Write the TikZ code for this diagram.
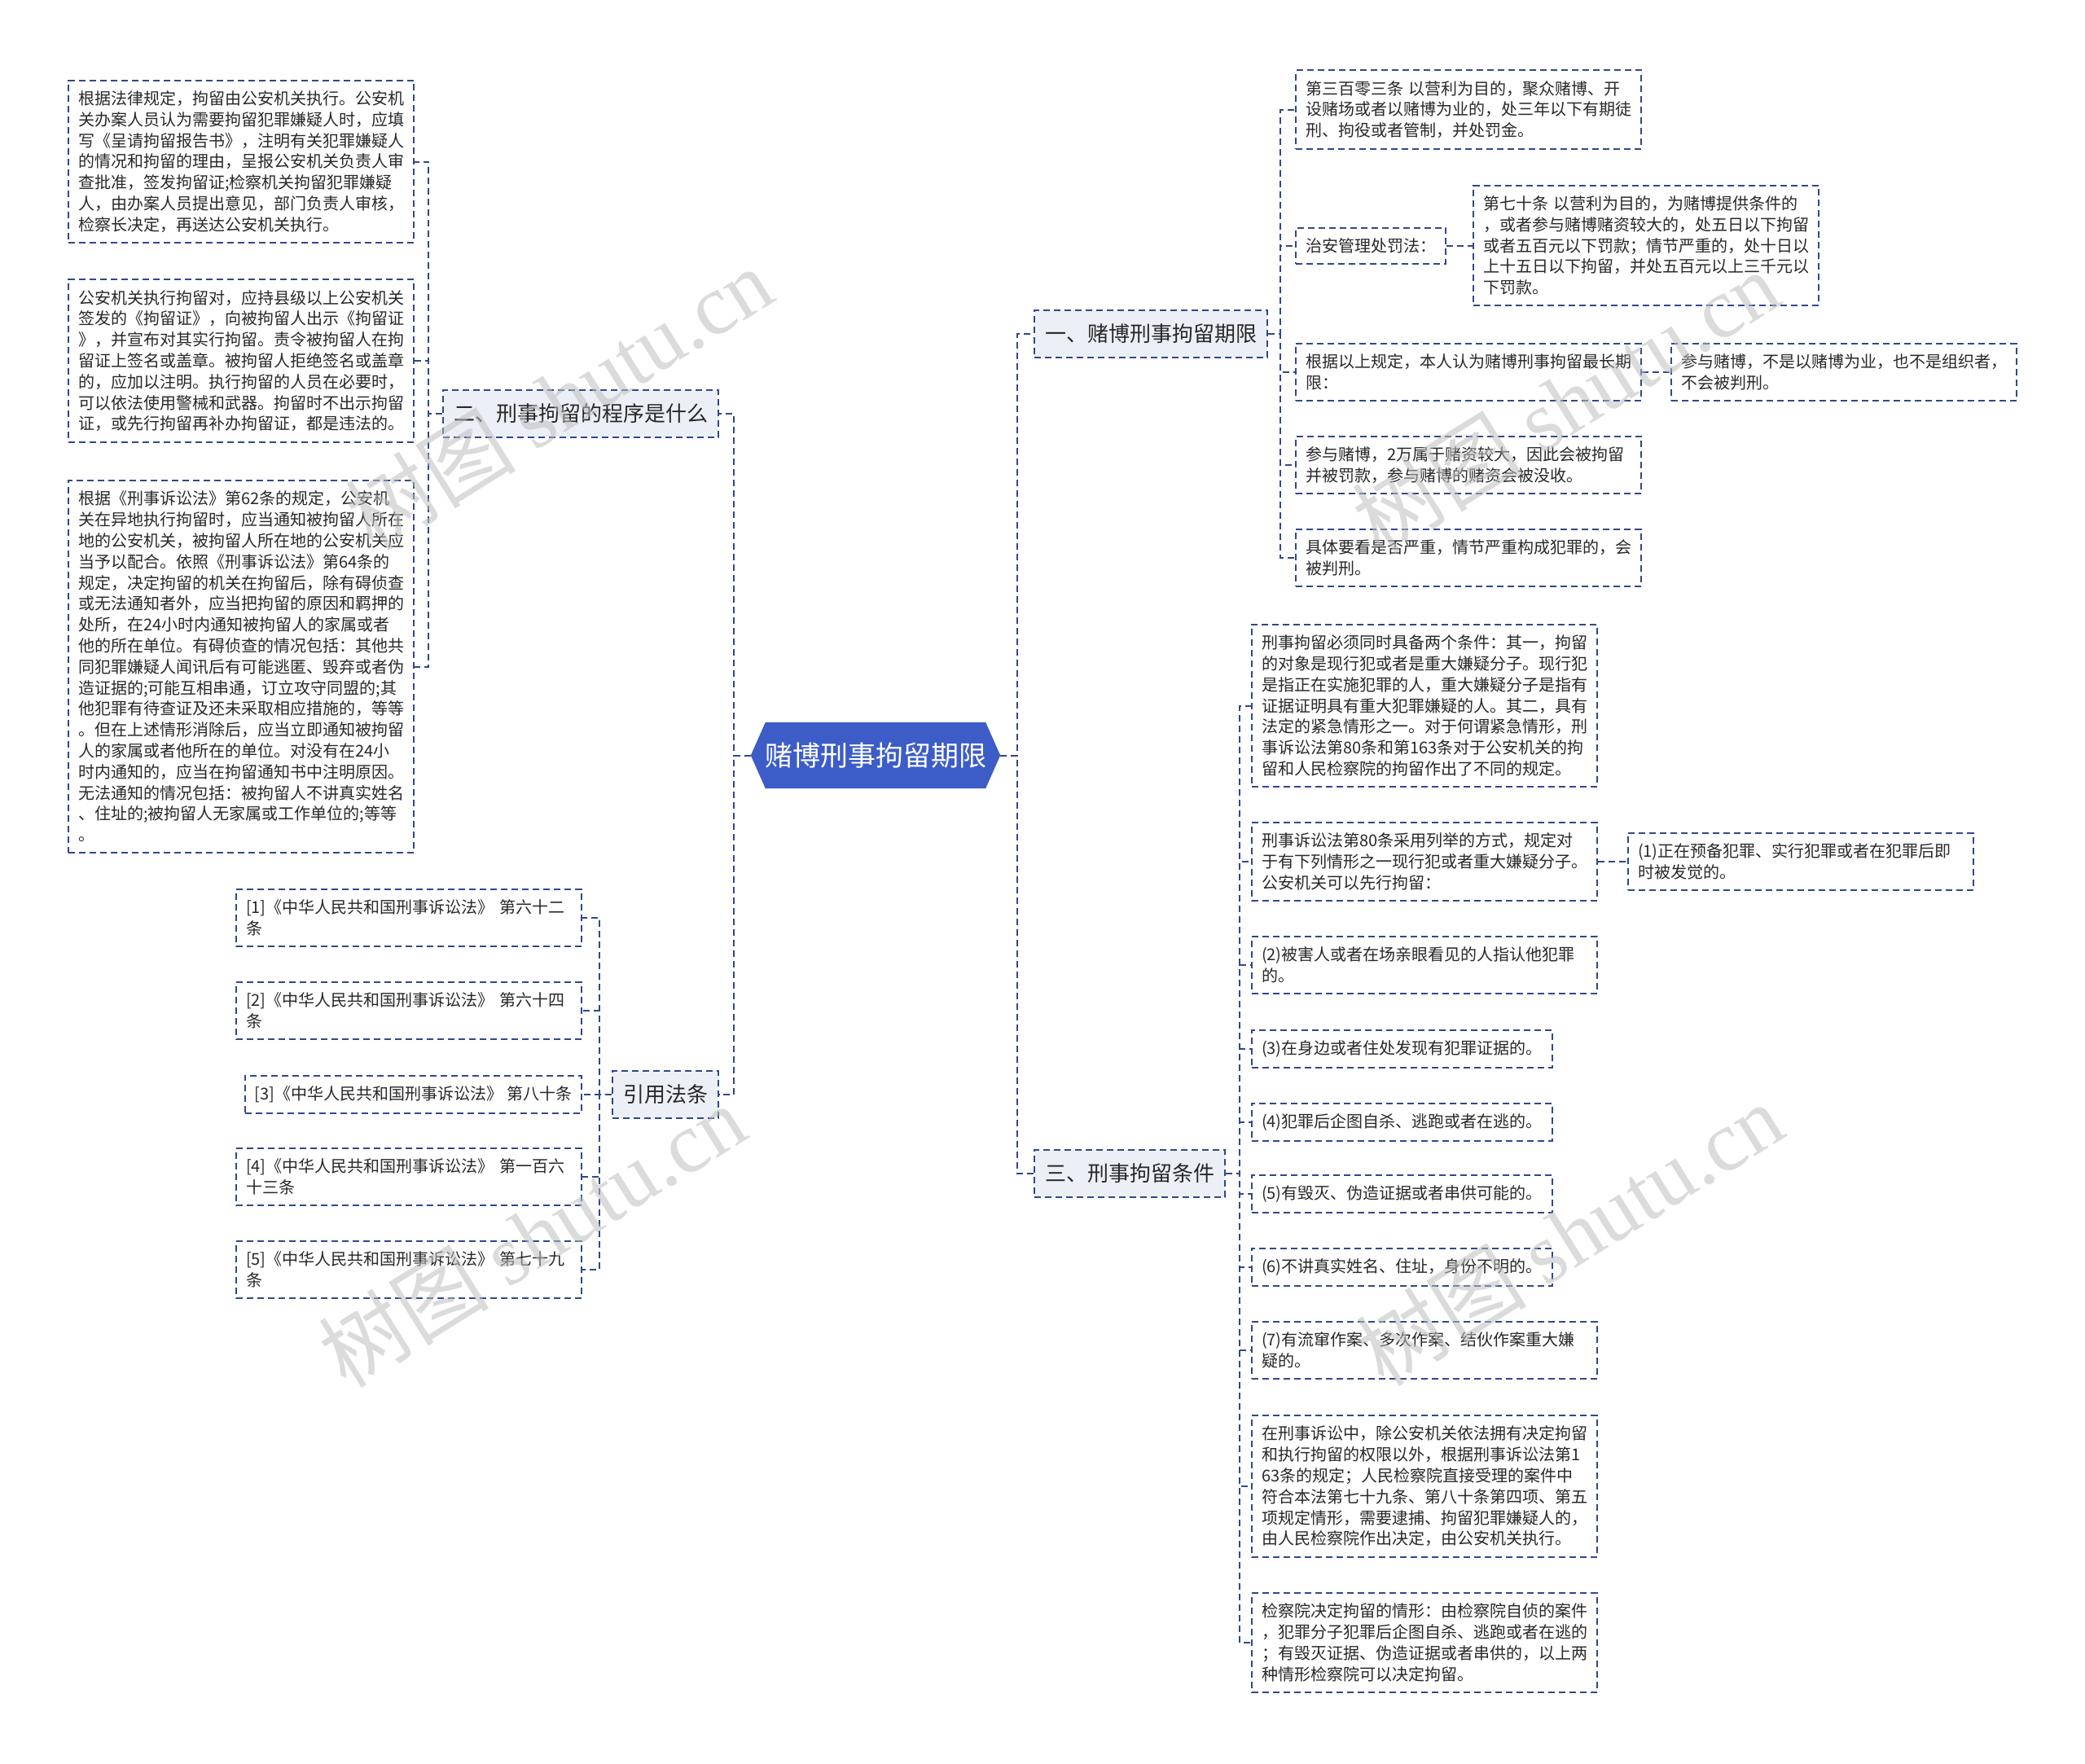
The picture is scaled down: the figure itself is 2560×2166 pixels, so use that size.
\documentclass[tikz,border=0pt]{standalone}
\usepackage{fontspec}
\setmainfont{Noto Sans CJK SC}
\newfontfamily\wmlat{Liberation Serif}
\usetikzlibrary{backgrounds}
\definecolor{lc}{RGB}{48,72,140}
\definecolor{lvbg}{RGB}{236,240,246}
\definecolor{rootc}{RGB}{60,92,200}
\definecolor{txt}{RGB}{40,40,40}
\definecolor{wmc}{RGB}{190,190,190}
\begin{document}
\begin{tikzpicture}[x=1pt,y=-1pt,
  box/.style={draw=lc, line width=2pt, dash pattern=on 8pt off 5pt, text=txt},
  leaf/.style={box, fill=white, inner xsep=12pt, inner ysep=13pt, font=\fontsize{20}{25.8}\selectfont, align=left},
  wide/.style={leaf, text width=400pt},
  lvl/.style={box, fill=lvbg, inner xsep=13pt, inner ysep=0pt, minimum height=58pt, font=\fontsize{26}{30}\selectfont},
  rootnode/.style={inner sep=0pt, minimum width=306pt, minimum height=81pt, text=white, font=\fontsize{34}{40}\selectfont},
  conn/.style={draw=lc, line width=2pt, dash pattern=on 8pt off 5pt},
  wm/.style={text=wmc, opacity=0.55, rotate=32, font=\fontsize{105}{110}\selectfont, inner sep=0pt}
]
\useasboundingbox (0,0) rectangle (2560,2166);

% root
\node[rootnode] (root) at (1075,927.5) {赌博刑事拘留期限};

% level 1
\node[lvl, anchor=east] (N2) at (883,508) {二、刑事拘留的程序是什么};
\node[lvl, anchor=east] (N4) at (883,1344) {引用法条};
\node[lvl, anchor=west] (N1) at (1269,410) {一、赌博刑事拘留期限};
\node[lvl, anchor=west] (N3) at (1269,1441) {三、刑事拘留条件};

% left leaves
\node[wide, anchor=east] (L1) at (509,198.5) {根据法律规定，拘留由公安机关执行。公安机\\关办案人员认为需要拘留犯罪嫌疑人时，应填\\写《呈请拘留报告书》，注明有关犯罪嫌疑人\\的情况和拘留的理由，呈报公安机关负责人审\\查批准，签发拘留证;检察机关拘留犯罪嫌疑\\人，由办案人员提出意见，部门负责人审核，\\检察长决定，再送达公安机关执行。};
\node[wide, anchor=east] (L2) at (509,443) {公安机关执行拘留对，应持县级以上公安机关\\签发的《拘留证》，向被拘留人出示《拘留证\\》，并宣布对其实行拘留。责令被拘留人在拘\\留证上签名或盖章。被拘留人拒绝签名或盖章\\的，应加以注明。执行拘留的人员在必要时，\\可以依法使用警械和武器。拘留时不出示拘留\\证，或先行拘留再补办拘留证，都是违法的。};
\node[wide, anchor=east] (L3) at (509,818.5) {根据《刑事诉讼法》第62条的规定，公安机\\关在异地执行拘留时，应当通知被拘留人所在\\地的公安机关，被拘留人所在地的公安机关应\\当予以配合。依照《刑事诉讼法》第64条的\\规定，决定拘留的机关在拘留后，除有碍侦查\\或无法通知者外，应当把拘留的原因和羁押的\\处所，在24小时内通知被拘留人的家属或者\\他的所在单位。有碍侦查的情况包括：其他共\\同犯罪嫌疑人闻讯后有可能逃匿、毁弃或者伪\\造证据的;可能互相串通，订立攻守同盟的;其\\他犯罪有待查证及还未采取相应措施的，等等\\。但在上述情形消除后，应当立即通知被拘留\\人的家属或者他所在的单位。对没有在24小\\时内通知的，应当在拘留通知书中注明原因。\\无法通知的情况包括：被拘留人不讲真实姓名\\、住址的;被拘留人无家属或工作单位的;等等\\。};

% references
\node[wide, anchor=east] (R1) at (715,1127) {[1]《中华人民共和国刑事诉讼法》 第六十二\\条};
\node[wide, anchor=east] (R2) at (715,1241) {[2]《中华人民共和国刑事诉讼法》 第六十四\\条};
\node[leaf, anchor=east] (R3) at (715,1344) {[3]《中华人民共和国刑事诉讼法》 第八十条};
\node[wide, anchor=east] (R4) at (715,1445) {[4]《中华人民共和国刑事诉讼法》 第一百六\\十三条};
\node[wide, anchor=east] (R5) at (715,1559) {[5]《中华人民共和国刑事诉讼法》 第七十九\\条};

% right group A
\node[wide, anchor=west] (A1) at (1590,134.5) {第三百零三条 以营利为目的，聚众赌博、开\\设赌场或者以赌博为业的，处三年以下有期徒\\刑、拘役或者管制，并处罚金。};
\node[leaf, anchor=west] (A2) at (1590,302) {治安管理处罚法：};
\node[wide, anchor=west] (A2a) at (1808,301.5) {第七十条 以营利为目的，为赌博提供条件的\\，或者参与赌博赌资较大的，处五日以下拘留\\或者五百元以下罚款；情节严重的，处十日以\\上十五日以下拘留，并处五百元以上三千元以\\下罚款。};
\node[wide, anchor=west] (A3) at (1590,457) {根据以上规定，本人认为赌博刑事拘留最长期\\限：};
\node[wide, anchor=west] (A3a) at (2051,457) {参与赌博，不是以赌博为业，也不是组织者，\\不会被判刑。};
\node[wide, anchor=west] (A4) at (1590,571) {参与赌博，2万属于赌资较大，因此会被拘留\\并被罚款，参与赌博的赌资会被没收。};
\node[wide, anchor=west] (A5) at (1590,685) {具体要看是否严重，情节严重构成犯罪的，会\\被判刑。};

% right group B
\node[wide, anchor=west] (B1) at (1536,866.5) {刑事拘留必须同时具备两个条件：其一，拘留\\的对象是现行犯或者是重大嫌疑分子。现行犯\\是指正在实施犯罪的人，重大嫌疑分子是指有\\证据证明具有重大犯罪嫌疑的人。其二，具有\\法定的紧急情形之一。对于何谓紧急情形，刑\\事诉讼法第80条和第163条对于公安机关的拘\\留和人民检察院的拘留作出了不同的规定。};
\node[wide, anchor=west] (B2) at (1536,1058) {刑事诉讼法第80条采用列举的方式，规定对\\于有下列情形之一现行犯或者重大嫌疑分子。\\公安机关可以先行拘留：};
\node[wide, anchor=west] (B2a) at (1998,1058) {(1)正在预备犯罪、实行犯罪或者在犯罪后即\\时被发觉的。};
\node[wide, anchor=west] (B3) at (1536,1184.5) {(2)被害人或者在场亲眼看见的人指认他犯罪\\的。};
\node[leaf, anchor=west] (B4) at (1536,1288) {(3)在身边或者住处发现有犯罪证据的。};
\node[leaf, anchor=west] (B5) at (1536,1378) {(4)犯罪后企图自杀、逃跑或者在逃的。};
\node[leaf, anchor=west] (B6) at (1536,1466) {(5)有毁灭、伪造证据或者串供可能的。};
\node[leaf, anchor=west] (B7) at (1536,1556) {(6)不讲真实姓名、住址，身份不明的。};
\node[wide, anchor=west] (B8) at (1536,1658) {(7)有流窜作案、多次作案、结伙作案重大嫌\\疑的。};
\node[wide, anchor=west] (B9) at (1536,1825) {在刑事诉讼中，除公安机关依法拥有决定拘留\\和执行拘留的权限以外，根据刑事诉讼法第1\\63条的规定；人民检察院直接受理的案件中\\符合本法第七十九条、第八十条第四项、第五\\项规定情形，需要逮捕、拘留犯罪嫌疑人的，\\由人民检察院作出决定，由公安机关执行。};
\node[wide, anchor=west] (B10) at (1536,2017) {检察院决定拘留的情形：由检察院自侦的案件\\，犯罪分子犯罪后企图自杀、逃跑或者在逃的\\；有毁灭证据、伪造证据或者串供的，以上两\\种情形检察院可以决定拘留。};

% bus coordinates
\coordinate (busRL) at (901,0);
\coordinate (busRR) at (1249,0);
\coordinate (busL) at (526,0);
\coordinate (busR) at (736,0);
\coordinate (busA) at (1572,0);
\coordinate (busB) at (1522,0);

% connectors
\foreach \c in {N2,N4} \draw[conn] (root.west) -- (root.west -| busRL) |- (\c.east);
\foreach \c in {N1,N3} \draw[conn] (root.east) -- (root.east -| busRR) |- (\c.west);
\foreach \c in {L1,L2,L3} \draw[conn] (N2.west) -- (N2.west -| busL) |- (\c.east);
\foreach \c in {R1,R2,R3,R4,R5} \draw[conn] (N4.west) -- (N4.west -| busR) |- (\c.east);
\foreach \c in {A1,A2,A3,A4,A5} \draw[conn] (N1.east) -- (N1.east -| busA) |- (\c.west);
\foreach \c in {B1,B2,B3,B4,B5,B6,B7,B8,B9,B10} \draw[conn] (N3.east) -- (N3.east -| busB) |- (\c.west);
\draw[conn] (A2.east) -- (A2a.west |- A2.east);
\draw[conn] (A3.east) -- (A3a.west);
\draw[conn] (B2.east) -- (B2a.west);

% background + hexagon
\begin{scope}[on background layer]
\fill[white] (0,0) rectangle (2560,2166);
\fill[rootc] (root.west) -- ([xshift=18pt]root.north west) -- ([xshift=-18pt]root.north east) -- (root.east) -- ([xshift=-18pt]root.south east) -- ([xshift=18pt]root.south west) -- cycle;
\end{scope}

% watermarks
\node[wm] (W1) at (686,489) {树图 {\wmlat shutu.cn}};
\node[wm] (W2) at (1922,493) {树图 {\wmlat shutu.cn}};
\node[wm] (W3) at (653,1517) {树图 {\wmlat shutu.cn}};
\node[wm] (W4) at (1927,1515) {树图 {\wmlat shutu.cn}};
\end{tikzpicture}
\end{document}
